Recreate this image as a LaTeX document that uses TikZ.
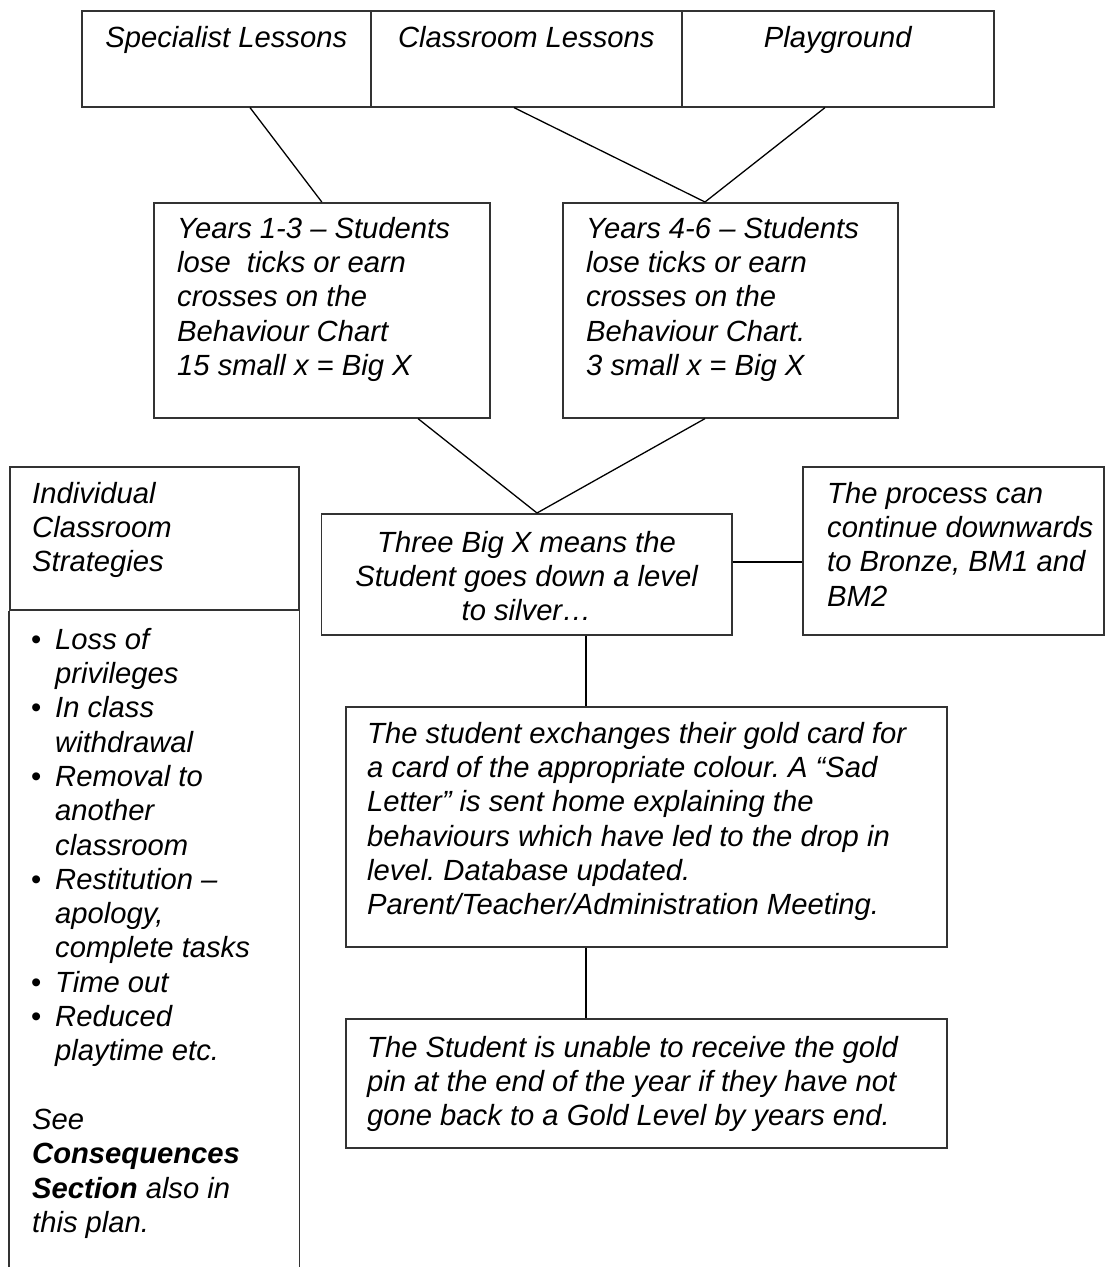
\documentclass[tikz,border=0pt]{standalone}
\usepackage{fontspec}
\setmainfont{Liberation Sans}
\usetikzlibrary{calc}
\frenchspacing
\begin{document}
\begin{tikzpicture}[x=1pt,y=-1pt,
  box/.style={draw=black!80,line width=1.6pt,rectangle,inner sep=0pt,anchor=north west},
  boxline/.style={draw=black!80,line width=1.6pt},
  txt/.style={inner sep=0pt,font=\fontsize{29.2}{34.3}\selectfont\itshape\frenchspacing},
  conn/.style={line width=1.3pt,black}]
\useasboundingbox (0,0) rectangle (1104,1267);

% top row of cells
\node[box,minimum width=289pt,minimum height=96pt] (spec) at (81,10) {};
\node[box,minimum width=311pt,minimum height=96pt] (class) at (370,10) {};
\node[box,minimum width=312pt,minimum height=96pt] (play) at (681,10) {};
\node[txt,anchor=base] (tspec) at ($(spec.north)+(0,37)$) {Specialist Lessons};
\node[txt,anchor=base] (tclass) at ($(class.north)+(0,37)$) {Classroom Lessons};
\node[txt,anchor=base] (tplay) at ($(play.north)+(0,37)$) {Playground};

% year boxes
\node[box,minimum width=336pt,minimum height=215pt] (box1) at (153,202) {};
\node[box,minimum width=335pt,minimum height=215pt] (box2) at (562,202) {};
\node[txt,anchor=north west,align=left] (t1) at (177,214)
  {\strut Years 1-3 – Students\\lose\ \ ticks or earn\\crosses on the\\Behaviour Chart\\15 small x = Big X};
\node[txt,anchor=north west,align=left] (t2) at (586,214)
  {\strut Years 4-6 – Students\\lose ticks or earn\\crosses on the\\Behaviour Chart.\\3 small x = Big X};

% middle box and right box
\node[box,minimum width=410.5pt,minimum height=121pt] (mid) at (320.5,513) {};
\node[txt,anchor=north,align=center] (tmid) at ($(mid.north)+(0,15)$)
  {\strut Three Big X means the\\Student goes down a level\\to silver…};
\node[box,minimum width=301pt,minimum height=168pt] (rbox) at (802,466) {};
\node[txt,anchor=north west,align=left] (trbox) at (827,479)
  {\strut The process can\\continue downwards\\to Bronze, BM1 and\\BM2};

% lower boxes
\node[box,minimum width=601pt,minimum height=240pt] (box3) at (345,706) {};
\node[txt,anchor=north west,align=left] (t3) at (367,719)
  {\strut The student exchanges their gold card for\\a card of the appropriate colour. A “Sad\\Letter” is sent home explaining the\\behaviours which have led to the drop in\\level. Database updated.\\Parent/Teacher/Administration Meeting.};
\node[box,minimum width=601pt,minimum height=129pt] (box4) at (345,1018) {};
\node[txt,anchor=north west,align=left] (t4) at (367,1033)
  {\strut The Student is unable to receive the gold\\pin at the end of the year if they have not\\gone back to a Gold Level by years end.};

% left column
\node[box,minimum width=289pt,minimum height=143pt] (lhead) at (9,466) {};
\draw[boxline] (lhead.south west) -- ++(0,658);
\draw[boxline] (lhead.south east) -- ++(0,658);
\node[txt,anchor=north west,align=left] (tlhead) at (32,479)
  {\strut Individual\\Classroom\\Strategies};
\node[txt,anchor=north west,align=left] (tlbody) at (31,625)
  {\strut\makebox[24pt][l]{\upshape•}Loss of\\
   \makebox[24pt][l]{}privileges\\
   \makebox[24pt][l]{\upshape•}In class\\
   \makebox[24pt][l]{}withdrawal\\
   \makebox[24pt][l]{\upshape•}Removal to\\
   \makebox[24pt][l]{}another\\
   \makebox[24pt][l]{}classroom\\
   \makebox[24pt][l]{\upshape•}Restitution –\\
   \makebox[24pt][l]{}apology,\\
   \makebox[24pt][l]{}complete tasks\\
   \makebox[24pt][l]{\upshape•}Time out\\
   \makebox[24pt][l]{\upshape•}Reduced\\
   \makebox[24pt][l]{}playtime etc.\\
   \strut\\
   \hspace*{1pt}See\\
   \hspace*{1pt}\textbf{Consequences}\\
   \hspace*{1pt}\textbf{Section} also in\\
   \hspace*{1pt}this plan.};

% connectors
\draw[conn] ($(spec.south west)+(169,0)$) -- (box1.north);
\draw[conn] ($(class.south west)+(144,0)$) -- ($(box2.north west)+(143,0)$);
\draw[conn] ($(play.south west)+(144,0)$) -- ($(box2.north west)+(143,0)$);
\draw[conn] ($(box1.south west)+(265,0)$) -- ($(mid.north west)+(216.5,0)$);
\draw[conn] ($(box2.south west)+(143,0)$) -- ($(mid.north west)+(216.5,0)$);
\coordinate (mr) at ($(mid.north east)+(0,49)$);
\draw[conn] (mr) -- (mr -| rbox.west);
\coordinate (mb) at ($(mid.south west)+(265.5,0)$);
\draw[conn] (mb) -- (mb |- box3.north);
\coordinate (b3b) at ($(box3.south west)+(241,0)$);
\draw[conn] (b3b) -- (b3b |- box4.north);
\end{tikzpicture}
\end{document}
